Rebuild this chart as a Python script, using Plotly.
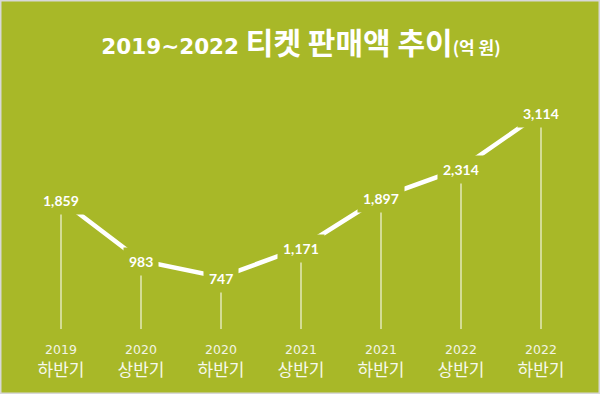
import plotly.graph_objects as go

years = ["2019", "2020", "2020", "2021", "2021", "2022", "2022"]
halves = ["하반기", "상반기", "하반기", "상반기", "하반기", "상반기", "하반기"]
values = [1859, 983, 747, 1171, 1897, 2314, 3114]
value_labels = ["1,859", "983", "747", "1,171", "1,897", "2,314", "3,114"]

BG = "#a8b828"
W, H = 600, 394
L, R, T, B = 21, 19, 93, 65

xs = list(range(len(values)))
ticktext = [
    f"<span style='font-family:DejaVu Sans;font-size:12.5px;color:#f2f4e4'>{y}</span><br>"
    f"<span style='font-family:Noto Sans CJK KR;font-size:17px;color:#f7f8ee'>{h}</span>"
    for y, h in zip(years, halves)
]

fig = go.Figure()
# stems
fig.add_trace(go.Bar(x=xs, y=values, width=0.016,
                     marker=dict(color="rgba(255,255,255,0.8)", line=dict(width=0)),
                     hoverinfo="skip"))
# trend line
fig.add_trace(go.Scatter(x=xs, y=values, mode="lines",
                         line=dict(color="white", width=4.5), hoverinfo="skip"))

for x, v, t in zip(xs, values, value_labels):
    fig.add_annotation(x=x, y=v, text=f"<b>{t}</b>", showarrow=False,
                       yshift=-1, bgcolor=BG, borderpad=5,
                       font=dict(family="Lato", size=14, color="white"))

pw = W - L - R
ph = H - T - B
fig.add_shape(type="rect", xref="paper", yref="paper",
              x0=(0.75 - L) / pw, x1=(W - 0.75 - L) / pw,
              y0=(H - B - (H - 0.75)) / ph, y1=(H - B - 0.75) / ph,
              line=dict(color="#d8d8d8", width=1.5))

fig.update_layout(
    width=W, height=H,
    paper_bgcolor=BG, plot_bgcolor=BG,
    margin=dict(l=L, r=R, t=T, b=B, autoexpand=False),
    showlegend=False,
    title=dict(
        text="<b><span style='font-family:DejaVu Sans;font-size:21.5px'>2019~2022</span> "
             "티켓 판매액 추이<span style='font-size:17px'>(억 원)</span></b>",
        font=dict(family="Noto Sans CJK KR", size=30, color="white"),
        x=0.5, xanchor="center", xref="paper",
        y=1 - 43 / H, yanchor="middle", yref="container",
        automargin=False,
    ),
    xaxis=dict(range=[-0.5, 6.5], tickvals=xs, ticktext=ticktext,
               showgrid=False, zeroline=False, showline=False, ticks="",
               automargin=False, ticklabelstandoff=7,
               tickfont=dict(size=16.8, color="white")),
    yaxis=dict(range=[0, 3400], visible=False, automargin=False),
)

fig.write_html("out.html",
               config={"displayModeBar": False},
               post_script="document.body.style.margin='0';document.body.style.padding='0';")
